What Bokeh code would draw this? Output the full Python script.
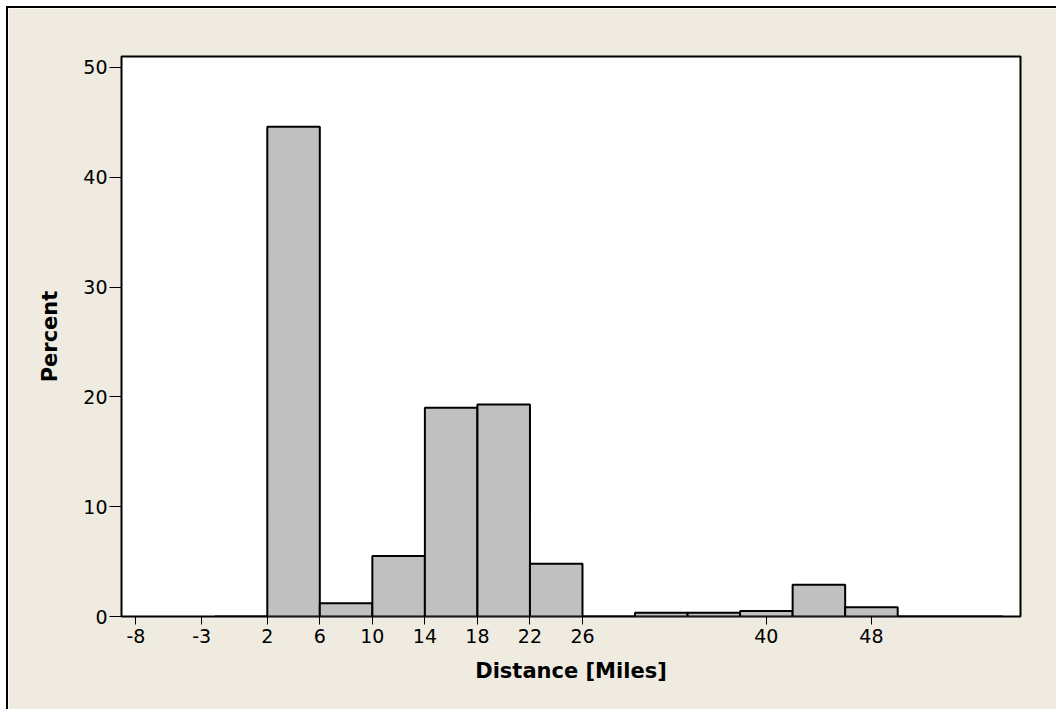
from bokeh.plotting import figure
from bokeh.models import Range1d, FixedTicker, ColumnDataSource
from bokeh.embed import file_html
from bokeh.resources import INLINE

# Data (histogram of distance, bin width 4 miles)
bin_left = [-2, 2, 6, 10, 14, 18, 22, 26, 30, 34, 38, 42, 46, 50, 54]
bin_right = [2, 6, 10, 14, 18, 22, 26, 30, 34, 38, 42, 46, 50, 54, 58]
percent = [0, 44.6, 1.2, 5.5, 19.0, 19.3, 4.8, 0, 0.35, 0.35, 0.5, 2.9, 0.85, 0, 0]
x_ticks = [-8, -3, 2, 6, 10, 14, 18, 22, 26, 40, 48]
y_ticks = [0, 10, 20, 30, 40, 50]

BG = "#EFEBE1"
FONT = "DejaVu Sans"

p = figure(width=1050, height=703, output_backend="svg", toolbar_location=None,
           x_range=Range1d(-9.1, 59.35), y_range=Range1d(0, 51.0),
           min_border_left=113, min_border_top=48, min_border_right=38,
           min_border_bottom=95)
p.styles = {"margin-left": "6px", "margin-top": "6px",
            "border-left": "2px solid black", "border-top": "2px solid black"}
p.background_fill_color = "white"
p.border_fill_color = BG
p.outline_line_color = "black"
p.outline_line_width = 2
p.grid.visible = False

src = ColumnDataSource(dict(left=bin_left, right=bin_right, top=percent,
                            bottom=[0] * len(percent)))
p.quad(left="left", right="right", top="top", bottom="bottom", source=src,
       fill_color="#C0C0C0", line_color="black", line_width=2)

p.xaxis.ticker = FixedTicker(ticks=x_ticks)
p.yaxis.ticker = FixedTicker(ticks=y_ticks)
p.xaxis.major_label_overrides = {t: str(t) for t in x_ticks}
for ax in (p.xaxis[0], p.yaxis[0]):
    ax.axis_line_color = None
    ax.major_tick_in = 0
    ax.major_tick_line_color = "black"
    ax.minor_tick_line_color = None
    ax.major_label_text_font = FONT
    ax.major_label_text_font_size = "19px"
    ax.major_label_text_color = "black"
    ax.axis_label_text_font = FONT
    ax.axis_label_text_font_style = "bold"
    ax.axis_label_text_font_size = "21px"
    ax.axis_label_text_color = "black"

p.xaxis.major_tick_out = 8
p.yaxis.major_tick_out = 12
p.xaxis.major_label_standoff = 4
p.yaxis.major_label_standoff = 2
p.xaxis.axis_label = "Distance [Miles]"
p.yaxis.axis_label = "Percent"
p.xaxis.axis_label_standoff = 13
p.yaxis.axis_label_standoff = 18

open("out.html", "w").write(file_html(p, INLINE))
